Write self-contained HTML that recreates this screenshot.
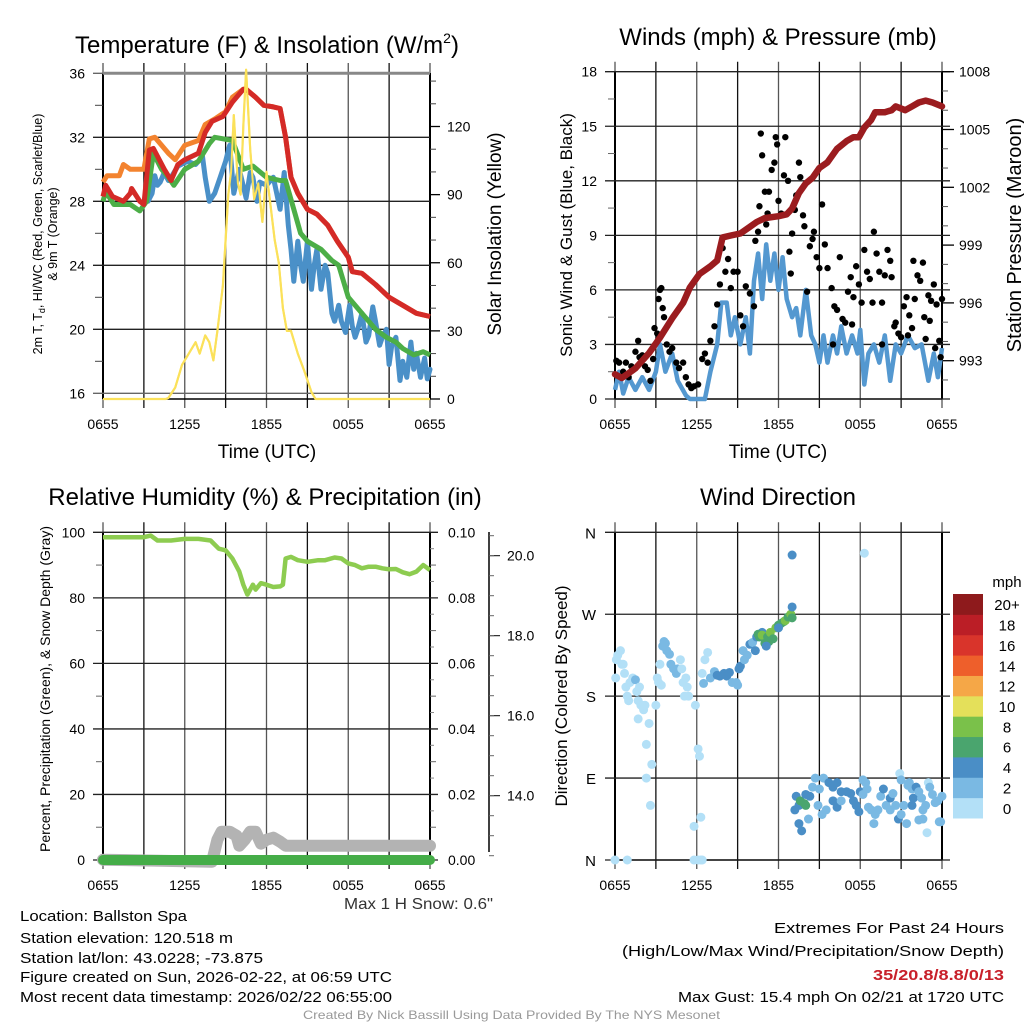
<!DOCTYPE html>
<html><head><meta charset="utf-8"><style>
html,body{margin:0;padding:0;background:#fff;width:1024px;height:1024px;overflow:hidden}
svg text{font-family:"Liberation Sans",sans-serif;fill:#000}
</style></head><body>
<svg id="root" width="1024" height="1024" viewBox="0 0 1024 1024" xmlns="http://www.w3.org/2000/svg">
</svg>
<script>
// ---------- data ----------
const xTickLabels=["0655","1255","1855","0055","0655"];
const tempTickLabels=[16,20,24,28,32,36];
const solarTickLabels=[0,30,60,90,120];
const windTickLabels=[0,3,6,9,12,15,18];
const presTickLabels=[993,996,999,1002,1005,1008];
const rhTickLabels=[0,20,40,60,80,100];
const precipTickLabels=["0.00","0.02","0.04","0.06","0.08","0.10"];
const snowTickLabels=["14.0","16.0","18.0","20.0"];
const dirTickLabels=["N","E","S","W","N"];

const redHours=[0,0.2,0.7,1.5,2,2.1,2.7,3,3.4,3.7,4.5,5,5.5,6,7,7.5,8,8.8,9.5,10.3,10.5,11.2,11.8,12.5,13,13.4,13.8,14.3,15,15.7,16.5,17.2,18,18.3,19,20,21,22,23,24];
const redTemps=[28.3,29,28.3,28.0,28.5,28.8,28,27.8,31.2,31.3,30,29.3,30.3,30.6,31,32.3,33,33.3,34.2,35,35,34.5,34,33.9,33.8,32,29.5,28.5,27.5,27.2,26.5,25.5,24.5,23.6,23.5,22.8,22.0,21.5,21.0,20.8];
const orangeHours=[0,0.3,1.2,1.5,2,2.7,3,3.4,3.8,4.8,5.3,6,7,7.5,8.3,9,9.5,10.3,10.5,11.2,11.8,12.5,13,13.4,13.8,14.3,15,15.7,16.5,17.2,18,18.3,19,20,21,22,23,24];
const orangeTemps=[29.2,29.6,29.6,30.3,30,30,30,31.9,32,31,30.6,31.5,31.8,32.8,33.2,33.6,34.5,35,35,34.5,34,33.9,33.8,32,29.5,28.5,27.5,27.2,26.5,25.5,24.5,23.6,23.5,22.8,22.0,21.5,21.0,20.8];
const greenHours=[0,0.2,0.8,2,2.7,3.2,3.7,4.3,4.8,5.2,6,7,7.8,8.2,9.5,10.3,11,12,13,13.4,14,14.5,15,16,16.8,17.3,18,19,20,20.8,21.5,22,22.8,23.5,24];
const greenTemps=[28,28.6,27.8,27.8,27.4,28,31,30,29.5,29.0,30,30.5,31.6,32,31.8,30,30.2,29.5,29.3,29.3,27.5,26,25.5,25,24.3,24,22,21,20,19.5,19.2,18.8,18.4,18.6,18.4];
const blueHours=[3.3,3.6,3.8,4.0,4.2,4.5,4.8,5.0,5.5,6.2,6.8,7.3,7.5,7.8,8.2,8.6,9.0,9.3,9.6,10.0,10.5,10.8,11,11.3,11.5,12,12.5,13,13.3,13.6,13.8,14,14.3,14.5,14.7,15,15.3,15.5,15.7,16,16.3,16.5,16.8,17,17.3,17.5,17.8,18.1,18.3,18.5,18.7,19,19.3,19.5,19.8,20,20.3,20.5,20.8,21.0,21.2,21.5,21.8,22,22.3,22.6,22.8,23,23.3,23.6,23.8,24];
const blueTemps=[28,28.5,29.6,29.0,29.2,29.8,29.3,29.5,30.2,30.5,30.3,30.8,29.5,28.0,28.5,29.5,30.5,31.5,28.5,30,28.2,29.8,29.5,28,29.2,29,29.5,27.5,29.8,26.5,25,23,25.5,24,23,25.5,22.5,24,25.0,22.5,24,23.5,21,20.5,21.5,20.5,19.8,21.5,20.2,19.5,20,21,19.2,19.6,21.4,20.5,19.0,19.5,20.0,17.8,19,19.5,16.8,18,17.0,19.2,17.5,18.5,17,18.2,16.9,17.5];
const solarHours=[0,4.6,4.8,5.3,5.8,6.3,6.8,7.1,7.5,7.8,8.1,8.4,8.8,9.2,9.4,9.6,9.9,10.1,10.3,10.5,10.8,11.1,11.4,11.7,12,12.3,12.6,12.9,13.2,13.5,13.8,14.3,14.8,15.3,15.6,24];
const solarValues=[0,0,0.5,5,15,20,25,20,28,25,17,30,50,90,100,125,95,90,120,145,110,88,95,78,100,85,70,60,40,30,30,20,12,3,0,0];

const sustHours=[0,0.3,0.6,1,1.5,2,2.5,3,3.3,3.7,4.2,4.6,5.2,5.5,6.6,7,7.5,7.8,8.2,8.5,8.8,9.2,9.6,9.9,10.2,10.5,10.8,11.1,11.4,11.7,12,12.3,12.6,13,13.3,13.6,14,14.4,14.7,15,15.3,15.6,16,16.3,16.6,17,17.4,17.8,18.0,18.3,18.6,19,19.4,19.8,20.2,20.6,21,21.5,22,22.5,23,23.4,23.7,24];
const sustValues=[0.5,1.5,0.3,1.2,0.5,1.2,0.5,1.5,3,1.5,2.5,1,0.2,0,0,1.5,3,5.3,5.3,3.5,4.5,3.0,4.5,2.5,6.5,8.0,5.5,8.5,6.5,8,6,7.8,5.5,4.5,5,3.5,6,3.5,3,2,3.5,2,3.5,2.5,4,2.5,3.5,2.5,3.8,0.8,2.5,3,2.0,3.5,1,3,2.5,3.5,2.8,3,1.0,2.5,1.2,2.8];
const gustHours=[0.1,0.3,0.6,0.8,1.0,1.2,1.5,1.7,1.8,2.0,2.2,2.4,2.6,2.8,2.9,3.1,3.2,3.3,3.4,3.5,3.6,3.8,4.0,4.2,4.5,4.7,5.0,5.2,5.4,5.6,5.8,6.1,6.4,6.6,6.8,7.0,7.3,7.5,7.7,7.9,8.1,8.3,8.5,8.7,9.0,9.2,9.4,9.6,9.9,10.2,10.3,10.5,10.6,10.7,10.8,11.0,11.1,11.2,11.3,11.5,11.7,11.8,11.9,12.0,12.2,12.4,12.5,12.7,12.8,12.9,13.0,13.2,13.3,13.5,13.6,13.8,13.9,14.1,14.3,14.5,14.6,14.8,15.0,15.2,15.4,15.6,15.9,16.1,16.3,16.5,16.7,16.9,17.1,17.3,17.5,17.7,17.9,18.1,18.3,18.5,18.7,19.0,19.2,19.4,19.6,19.8,20.0,20.2,20.3,20.5,20.8,21.0,21.2,21.4,21.6,21.8,22.0,22.2,22.4,22.7,23.0,23.2,23.4,23.6,23.8,24.0,22.6,21.9,22.8,23.5,23.9,23.1,20.6,21.5,17.4,18.9,16.0,19.6];
const gustValues=[2.1,2.0,1.5,2.0,1.2,1.8,2.6,3.2,2.3,2.4,1.8,1.6,1.0,2.2,3.9,3.6,5.5,6.0,6.1,5.0,4.5,3.0,2.6,2.8,2.0,1.7,2.0,1.2,0.8,0.6,0.7,0.8,2.2,2.5,2.0,3.2,4.0,5.2,6.3,8.3,7.0,7.7,6.1,7.0,7.0,4.6,4.0,6.2,5.8,5.1,8.7,9.2,10.6,14.6,13.4,11.4,9.6,10.2,11.4,12.6,13.0,14.4,14.0,10.9,10.2,12.3,14.4,12.0,8.1,6.9,9.1,10.4,11.2,13.0,12.2,10.1,9.5,5.9,8.4,8.8,9.2,7.8,7.2,10.7,8.5,7.2,6.1,5.1,4.9,7.8,4.4,4.2,5.9,6.7,5.6,7.3,6.3,5.3,8.2,7.0,6.6,9.2,8.0,7.0,5.3,6.8,8.2,7.6,6.7,4.0,3.6,3.4,5.1,5.6,4.6,3.9,5.5,6.8,6.5,4.5,5.7,5.4,6.3,5.2,3.2,5.5,7.5,7.6,3.3,2.8,2.3,4.3,4.2,3.5,4.1,5.3,3.0,3.0];
const presHours=[0,0.5,1.5,2.5,3.3,4.2,5,5.5,6.2,7,7.5,7.9,8.5,9.2,9.8,10.4,11,12,12.6,13,13.5,14.0,14.5,15.0,15.6,16.3,17,17.5,17.9,18.3,18.8,19.1,19.8,20.3,20.6,21.3,21.8,22.3,22.8,23.3,24];
const presValues=[992.3,992.1,992.6,993.4,994.2,995.2,996.0,996.8,997.5,997.9,998.2,999.4,999.5,999.6,999.9,1000.2,1000.4,1000.5,1000.6,1000.9,1001.7,1002.2,1002.5,1003.0,1003.3,1004.0,1004.4,1004.6,1004.6,1005.1,1005.5,1005.9,1005.9,1006.0,1006.2,1006.0,1006.2,1006.4,1006.5,1006.4,1006.2];

const rhHours=[0,3,3.5,4,5,6,7,7.9,8.5,9,9.5,10,10.3,10.6,11,11.2,11.6,12,12.5,13,13.2,13.4,13.8,14.3,15,15.8,16.3,17,17.5,18,18.5,19,19.5,20,20.5,21,21.5,22,22.5,23,23.5,24];
const rhValues=[98.5,98.5,99,97.5,97.5,98,98,97.5,95,94.5,92,88,84,81,84,82.5,84.5,84,83.3,83.5,84,92,92.5,91.5,91,91.5,91.5,92.3,92,90.5,90,89,89.5,89.5,89,88.7,88.8,87.8,87.2,88,90,88.5];
const precipHours=[0,24];
const precipValues=[0,0];
const snowHours=[0,8.0,8.4,8.7,9.3,9.8,10.0,10.4,10.8,11.2,11.6,12.0,12.5,13.0,13.4,24];
const snowValues=[12.4,12.35,12.9,13.1,13.1,13.0,12.75,12.9,13.1,13.1,12.8,12.9,12.95,12.85,12.75,12.75];

const dirHours=[0.05,0.1,0.2,0.4,0.5,0.6,0.7,0.8,0.9,1.0,1.1,1.3,1.5,1.6,1.7,1.8,1.9,2.0,2.1,2.2,1.7,2.5,2.3,2.7,2.3,2.6,3.0,3.2,3.3,3.1,3.4,3.5,3.6,3.7,3.8,4.0,4.1,4.3,4.5,4.6,4.9,5.0,5.2,5.3,5.1,5.4,4.8,5.9,6.1,6.2,6.3,5.8,6.3,5.8,6.1,6.4,0.0,0.9,6.4,6.6,6.8,6.5,7.0,7.3,7.5,7.7,8.0,8.2,8.4,8.6,8.9,9.0,9.1,9.2,9.4,9.5,9.7,9.9,10.1,10.3,10.4,10.8,10.5,10.6,10.8,11.0,11.2,11.3,11.4,11.6,11.8,12.0,12.2,12.4,12.5,12.7,12.9,13.0,12.0,11.1,13.0,13.0,18.3,13.2,13.3,13.5,13.6,13.9,14.0,14.3,14.0,13.5,13.7,14.2,14.5,14.7,15.0,15.3,14.9,15.2,15.5,15.7,16.0,16.3,16.6,16.0,16.3,16.6,17.0,17.3,17.5,17.7,17.9,18.0,18.2,18.4,18.2,18.5,18.6,18.8,19.0,19.1,19.3,19.5,19.7,19.9,20.2,20.4,20.2,20.6,20.8,20.9,21.0,21.2,21.4,21.0,21.5,21.8,21.9,21.8,21.6,22.1,22.3,22.5,22.8,22.3,22.6,22.9,22.6,23.0,23.1,23.3,23.5,23.7,23.8,24.0,23.9];
const dirValues=[200,220,225,230,215,215,205,190,180,175,195,200,198,185,175,190,170,170,165,170,155,150,127,105,90,60,170,195,215,200,192,235,240,238,230,226,215,210,205,210,210,195,200,190,180,180,220,170,122,114,47,37,0,0,0,0,0,0,205,220,228,194,200,207,203,202,205,202,206,195,195,192,210,213,230,220,225,237,239,230,245,250,248,245,247,238,245,240,250,243,255,258,260,262,263,267,270,266,255,235,278,335,337,55,70,60,65,62,60,70,72,40,32,45,80,90,78,90,60,50,55,85,80,85,75,65,58,65,75,73,65,60,53,75,88,85,72,78,58,55,40,50,55,70,78,60,68,73,55,60,45,95,88,60,40,50,82,78,68,60,85,80,75,68,60,44,45,30,55,85,80,72,63,65,42,70,42];
const dirSpeeds=[0.5,0.5,0.5,0.5,0.5,0.5,0.5,0.5,0.5,0.5,0.5,0.5,3,0.5,0.5,0.5,0.5,0.5,0.5,0.5,0.5,0.5,0.5,0.5,0.5,0.5,0.5,0.5,0.5,0.5,0.5,2,2,2,2,2,2,2,2,2,0.5,0.5,0.5,0.5,0.5,0.5,0.5,0.5,0.5,0.5,0.5,0.5,0.5,0.5,0.5,0.5,0.5,0.5,0.5,0.5,0.5,2,2,2,4,4,4,4,4,2,2,2,4,4,2,2,2,4,2,4,4,4,7,7,8,6,7,6,8,7,8,6,6,7,8,6,8,6,4,4,4,4,0.5,4,4,5,7,6,7,4,4,4,4,3,2,2,2,2,2,2,2,4,4,4,4,4,4,2,4,4,4,4,4,4,2,2,2,2,2,2,2,2,2,2,4,2,4,2,2,2,4,0.5,2,2,2,2,2,2,4,4,2,4,2,2,2,2,2,0.5,2,0.5,2,2,2,2,2,2,2];
const speedColors=["#b3e0f7","#7ab9e3","#4a8ec6","#4aa56e","#7ac14a","#e4e05a","#f5a747","#ee5f2b","#d9342b","#bb1e26","#8e1a1c"];
const speedLabels=["0","2","4","6","8","10","12","14","16","18","20+"];

// ---------- helpers ----------
const NS="http://www.w3.org/2000/svg";
const root=document.getElementById('root');
function mk(tag,attrs,parent,txt){const e=document.createElementNS(NS,tag);for(const k in attrs)e.setAttribute(k,attrs[k]);if(txt!==undefined)e.textContent=txt;(parent||root).appendChild(e);return e;}
function lin(d0,d1,r0,r1){return v=>r0+(v-d0)*(r1-r0)/(d1-d0);}
function pathOf(xs,ys,fx,fy){return xs.map((h,i)=>(i?'L':'M')+fx(h).toFixed(1)+','+fy(ys[i]).toFixed(1)).join('');}

const L=103,R=430;
const xT=lin(0,24,L,R);

function frame(g,top,bot){
  for(let i=0;i<=8;i++){const x=xT(i*3);
    const ln=mk('line',{x1:x,x2:x,y1:top-10,y2:bot+9,stroke:i%2?'#111':'#555','stroke-width':1.3},g);
    
    }
  mk('line',{x1:L,x2:L,y1:top,y2:bot,stroke:'#000','stroke-width':2},g);
  mk('line',{x1:R,x2:R,y1:top,y2:bot,stroke:'#000','stroke-width':2},g);
  mk('line',{x1:L,x2:R,y1:bot,y2:bot,stroke:'#000','stroke-width':1.5},g);
  xTickLabels.forEach((t,i)=>{const tx=mk('text',{x:xT(i*6),y:bot+30,'font-size':14,'text-anchor':'middle'},g,t);
    
    });
}
function hgrid(g,y,x0,x1,col){mk('line',{x1:x0,x2:x1,y1:y,y2:y,stroke:col||'#222','stroke-width':1.3},g);}

// ================= PANEL 1 =================
(function(){
  const g=mk('g',{});
  const top=73,bot=399;
  const yT=lin(16,36,393.3,73.3), yS=lin(0,120,399,126.5);
  frame(g,top,bot);
  tempTickLabels.forEach(v=>{const y=yT(v);hgrid(g,y,93,R,(v==36||v==16)?'#666':'#222');
    const t=mk('text',{x:85,y:y+5,'font-size':14,'text-anchor':'end'},g,v);
    });
  mk('line',{x1:L,x2:R,y1:yT(36),y2:yT(36),stroke:'#888','stroke-width':3},g);
  for(let v=18;v<36;v+=4){mk('line',{x1:95,x2:L,y1:yT(v),y2:yT(v),stroke:'#444'},g);}
  solarTickLabels.forEach(v=>{const y=yS(v);mk('line',{x1:R,x2:R+10,y1:y,y2:y,stroke:'#000','stroke-width':1.3},g);
    const t=mk('text',{x:447,y:y+5,'font-size':14},g,v);
    });
  for(let v=10;v<145;v+=10){if(v%30)mk('line',{x1:R,x2:R+6,y1:yS(v),y2:yS(v),stroke:'#444'},g);}
  const ps=mk('path',{d:pathOf(solarHours,solarValues,xT,yS),fill:'none',stroke:'#fbe15a','stroke-width':2.2,'stroke-linejoin':'round'},g);
  
  const pb=mk('path',{d:pathOf(blueHours,blueTemps,xT,yT),fill:'none',stroke:'#4a90c8','stroke-width':5,'stroke-linejoin':'round','stroke-linecap':'round'},g);
  
  const pg=mk('path',{d:pathOf(greenHours,greenTemps,xT,yT),fill:'none',stroke:'#4cae47','stroke-width':5,'stroke-linejoin':'round'},g);
  
  const po=mk('path',{d:pathOf(orangeHours,orangeTemps,xT,yT),fill:'none',stroke:'#f3832f','stroke-width':5,'stroke-linejoin':'round'},g);
  
  const pr=mk('path',{d:pathOf(redHours,redTemps,xT,yT),fill:'none',stroke:'#d42a27','stroke-width':5,'stroke-linejoin':'round'},g);
  
  mk('path',{d:pathOf(solarHours,solarValues,xT,yS),fill:'none',stroke:'#fbe15a','stroke-width':2,'stroke-linejoin':'round'},g);
  const tt=mk('text',{x:267,y:53,'font-size':24,'text-anchor':'middle',},g);
  mk('tspan',{},tt,'Temperature (F) & Insolation (W/m');
  mk('tspan',{'font-size':14,dy:-10},tt,'2');
  mk('tspan',{dy:10},tt,')');
  mk('text',{x:267,y:458,'font-size':19,'text-anchor':'middle',},g,'Time (UTC)');
  const yl=mk('text',{x:0,y:0,'font-size':12.5,'text-anchor':'middle',transform:'translate(42,234) rotate(-90)',},g);
  mk('tspan',{},yl,'2m T, T');
  mk('tspan',{'font-size':9,dy:3},yl,'d');
  mk('tspan',{dy:-3},yl,', HI/WC (Red, Green, Scarlet/Blue)');
  mk('text',{x:0,y:0,'font-size':12.5,'text-anchor':'middle',transform:'translate(57,234) rotate(-90)',},g,'& 9m T (Orange)');
  mk('text',{x:0,y:0,'font-size':19,'text-anchor':'middle',transform:'translate(501,234) rotate(-90)',},g,'Solar Insolation (Yellow)');
})();

// ================= PANEL 2 =================
(function(){
  const g=mk('g',{transform:'translate(512,0)'});
  const top=71.7,bot=399;
  const yW=lin(0,18,399,71.7), yP=lin(993,1008,360.7,71.7);
  frame(g,top,bot);
  windTickLabels.forEach(v=>{const y=yW(v);hgrid(g,y,93,R+8);
    const t=mk('text',{x:85,y:y+5,'font-size':14,'text-anchor':'end'},g,v);
    });
  for(let v=1.5;v<18;v+=3)mk('line',{x1:96,x2:L,y1:yW(v),y2:yW(v),stroke:'#666'},g);
  presTickLabels.forEach(v=>{const y=yP(v);mk('line',{x1:R,x2:R+12,y1:y,y2:y,stroke:'#000','stroke-width':1.3},g);
    const t=mk('text',{x:447,y:y+5,'font-size':14},g,v);
    });
  for(let v=992;v<1009;v++){if((v-993)%3)mk('line',{x1:R,x2:R+6,y1:yP(v),y2:yP(v),stroke:'#555'},g);}
  const pw=mk('path',{d:pathOf(sustHours,sustValues,xT,yW),fill:'none',stroke:'#5498d0','stroke-width':4.5,'stroke-linejoin':'round'},g);
  
  gustHours.forEach((h,i)=>{const c=mk('circle',{cx:xT(h),cy:yW(gustValues[i]),r:3.2,fill:'#000'},g);
    });
  const pp=mk('path',{d:pathOf(presHours,presValues,xT,yP),fill:'none',stroke:'#9b1c1f','stroke-width':6.5,'stroke-linejoin':'round','stroke-linecap':'round'},g);
  
  mk('text',{x:266,y:45,'font-size':24,'text-anchor':'middle',},g,'Winds (mph) & Pressure (mb)');
  mk('text',{x:266,y:458,'font-size':19,'text-anchor':'middle',},g,'Time (UTC)');
  mk('text',{x:0,y:0,'font-size':17,'text-anchor':'middle',transform:'translate(60,235) rotate(-90)',},g,'Sonic Wind & Gust (Blue, Black)');
  mk('text',{x:0,y:0,'font-size':20,'text-anchor':'middle',transform:'translate(1021,235) rotate(-90)',},root,'Station Pressure (Maroon)');
})();

// ================= PANEL 3 =================
(function(){
  const g=mk('g',{});
  const top=532.3,bot=860;
  const yH=lin(0,100,860,532.3), ySn=lin(14,20,795.7,555.7);
  frame(g,top,bot);
  rhTickLabels.forEach((v,i)=>{const y=yH(v);hgrid(g,y,93,R+8);
    const t=mk('text',{x:85,y:y+5,'font-size':14,'text-anchor':'end'},g,v);
    
    const t2=mk('text',{x:448,y:y+5,'font-size':14},g,precipTickLabels[i]);
    });
  for(let v=10;v<100;v+=20){mk('line',{x1:96,x2:L,y1:yH(v),y2:yH(v),stroke:'#666'},g);mk('line',{x1:R,x2:R+6,y1:yH(v),y2:yH(v),stroke:'#666'},g);}
  for(let v=5;v<100;v+=5){if(v%10)mk('line',{x1:R,x2:R+4,y1:yH(v),y2:yH(v),stroke:'#888'},g);}
  mk('line',{x1:489,x2:489,y1:532,y2:852,stroke:'#000','stroke-width':1.5},g);
  snowTickLabels.forEach(v=>{const y=ySn(+v);mk('line',{x1:489,x2:500,y1:y,y2:y,stroke:'#000'},g);
    const t=mk('text',{x:507,y:y+5,'font-size':14},g,v);
    });
  for(let v=12.5;v<21;v+=0.5){mk('line',{x1:489,x2:494,y1:ySn(v),y2:ySn(v),stroke:'#666'},g);}
  const ps=mk('path',{d:pathOf(snowHours,snowValues,xT,ySn),fill:'none',stroke:'#b3b3b3','stroke-width':12,'stroke-linejoin':'round','stroke-linecap':'round'},g);
  
  const pp=mk('path',{d:pathOf(precipHours,precipValues,xT,v=>yH(v*1000)),fill:'none',stroke:'#45ad48','stroke-width':10,'stroke-linecap':'round'},g);
  
  const pr=mk('path',{d:pathOf(rhHours,rhValues,xT,yH),fill:'none',stroke:'#8dcc50','stroke-width':4.5,'stroke-linejoin':'round'},g);
  
  mk('text',{x:265,y:505,'font-size':24,'text-anchor':'middle',},g,'Relative Humidity (%) & Precipitation (in)');
  mk('text',{x:0,y:0,'font-size':14,'text-anchor':'middle',transform:'translate(50,689) rotate(-90)',},g,'Percent, Precipitation (Green), & Snow Depth (Gray)');
  const ms=mk('text',{x:344,y:909,'font-size':16,textLength:149,lengthAdjust:'spacingAndGlyphs',},g,'Max 1 H Snow: 0.6"');
  ms.style.fill='#333';
})();

// ================= PANEL 4 =================
(function(){
  const g=mk('g',{transform:'translate(512,0)'});
  const top=532.3,bot=860;
  const yD=lin(0,360,860,532.3);
  frame(g,top,bot);
  dirTickLabels.forEach((t,i)=>{const y=yD(i*90);hgrid(g,y,93,R+8);
    const tx=mk('text',{x:84,y:y+6,'font-size':15,'text-anchor':'end'},g,t);
    });
  dirHours.forEach((h,i)=>{const bin=Math.min(10,Math.floor(dirSpeeds[i]/2));
    const c=mk('circle',{cx:xT(h),cy:yD(dirValues[i]),r:4.5,fill:speedColors[bin]},g);
    });
  mk('text',{x:266,y:505,'font-size':24,'text-anchor':'middle',},g,'Wind Direction');
  mk('text',{x:0,y:0,'font-size':17,'text-anchor':'middle',transform:'translate(55,696) rotate(-90)',},g,'Direction (Colored By Speed)');
  const cb=mk('g',{});
  const h=(818-594)/11;
  speedColors.forEach((c,i)=>{const y=818-(i+1)*h;
    const r=mk('rect',{x:953,y:y,width:30,height:h+0.5,fill:c},cb);
    
    const t=mk('text',{x:1007,y:y+h/2+6,'font-size':15,'text-anchor':'middle'},cb,speedLabels[i]);
    });
  mk('text',{x:1007,y:587,'font-size':15,'text-anchor':'middle',},cb,'mph');
})();

// ================= FOOTER =================
const footL=[["Location: Ballston Spa",916,167],["Station elevation: 120.518 m",938,213],["Station lat/lon: 43.0228; -73.875",958,243],["Figure created on Sun, 2026-02-22, at 06:59 UTC",977,372],["Most recent data timestamp: 2026/02/22 06:55:00",997,372]];
footL.forEach(f=>{const t=mk('text',{x:20,y:f[1]+5,'font-size':15,textLength:f[2],lengthAdjust:'spacingAndGlyphs'},root,f[0]);
  });
const footR=[["Extremes For Past 24 Hours",928,230,'#000'],["(High/Low/Max Wind/Precipitation/Snow Depth)",951,382,'#000'],["35/20.8/8.8/0/13",975,131,'#c8202a'],["Max Gust: 15.4 mph On 02/21 at 1720 UTC",997,326,'#000']];
footR.forEach((f,i)=>{const t=mk('text',{x:1004-f[2],y:f[1]+5,'font-size':15,textLength:f[2],lengthAdjust:'spacingAndGlyphs','font-weight':i==2?'bold':'normal'},root,f[0]);
  t.style.fill=f[3];
  });
const cr=mk('text',{x:303,y:1019,'font-size':12,textLength:417,lengthAdjust:'spacingAndGlyphs'},root,'Created By Nick Bassill Using Data Provided By The NYS Mesonet');
cr.style.fill='#999';


</script>
</body></html>
